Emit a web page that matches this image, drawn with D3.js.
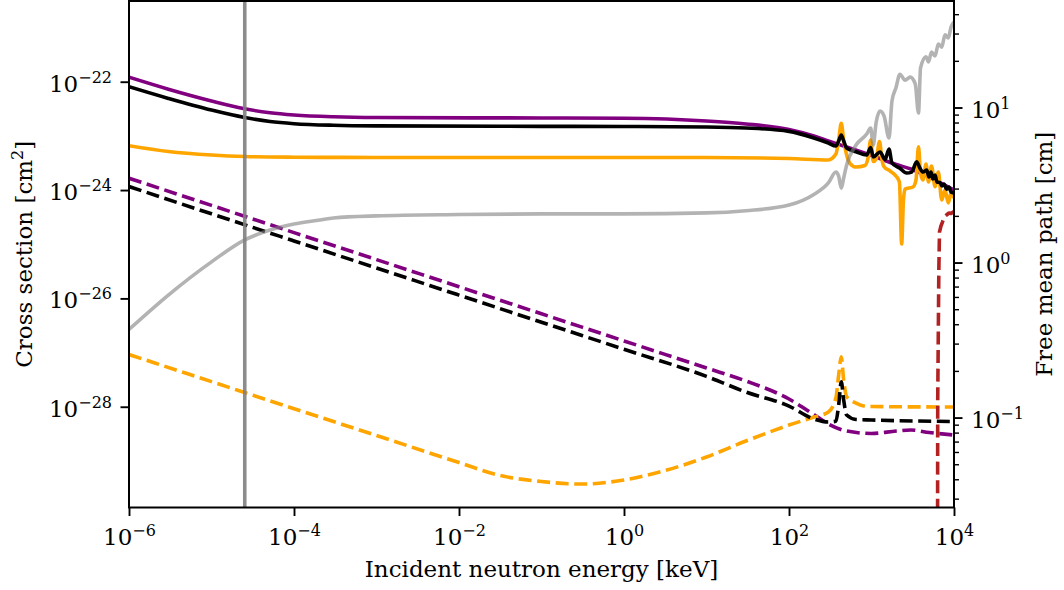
<!DOCTYPE html>
<html><head><meta charset="utf-8">
<script src="https://cdn.jsdelivr.net/npm/d3@7"></script>
<style>
body{margin:0;background:#fff}
svg text{font-family:"DejaVu Serif",serif;fill:#000}
</style></head><body>
<svg id="chart" width="1064" height="590"></svg>
<script>
// ---- data: [energy keV, cross section cm^2] ----
const purpleTotal = [[1e-6,1.21e-22],[3e-6,7.27e-23],[1e-5,4.41e-23],[2.53e-5,3.16e-23],[5.12e-5,2.67e-23],[1e-4,2.43e-23],[3e-4,2.25e-23],[1e-3,2.18e-23],[1e-1,2.14e-23],[1,2.11e-23],[10,1.88e-23],[30,1.66e-23],[100,1.31e-23],[200,9.93e-24],[300,8.04e-24],[500,6.24e-24],[1000,4.35e-24],[2000,2.96e-24],[3000,2.45e-24],[5000,1.74e-24],[1e4,1.0e-24]];
const orangeTotal = [[1e-6,6.59e-24],[3e-6,5.14e-24],[1e-5,4.43e-24],[2.53e-5,4.16e-24],[1e-4,4.04e-24],[3e-4,4.01e-24],[1e-3,3.99e-24],[10,3.99e-24],[100,3.82e-24],[300,3.59e-24],[370,4.62e-24],[400,8.39e-24],[430,1.71e-23],[460,8.39e-24],[500,4.43e-24],[548,3.12e-24],[650,2.66e-24],[834,2.84e-24],[908,3.91e-24],[977,8.39e-24],[1050,3.36e-24],[1140,3.74e-24],[1250,7.87e-24],[1340,3.59e-24],[1420,2.70e-24],[1680,2.25e-24],[1980,1.82e-24],[2180,1.41e-24],[2320,1.01e-25],[2440,6.55e-25],[2550,1.04e-24],[3180,1.14e-24],[3460,1.53e-24],[3710,6.31e-24],[3930,2.04e-24],[4210,1.53e-24],[4580,3.03e-24],[4910,1.41e-24],[5340,2.78e-24],[5890,1.15e-24],[6460,2.15e-24],[7100,6.55e-25],[7780,1.0e-24],[8530,5.77e-25],[9200,8.81e-25],[1e4,7.13e-25]];
const blackTotal = [[1e-6,8.09e-23],[3e-6,4.92e-23],[1e-5,2.99e-23],[2.53e-5,2.18e-23],[5.12e-5,1.84e-23],[1e-4,1.68e-23],[3e-4,1.57e-23],[1e-3,1.53e-23],[1e-1,1.50e-23],[1,1.49e-23],[10,1.46e-23],[30,1.40e-23],[100,1.21e-23],[200,9.14e-24],[300,7.38e-24],[370,6.5e-24],[400,8.04e-24],[430,1.04e-23],[460,8.04e-24],[500,5.97e-24],[650,5.10e-24],[875,4.44e-24],[977,6.10e-24],[1050,4.07e-24],[1270,5.04e-24],[1460,3.66e-24],[1630,5.72e-24],[1770,3.16e-24],[2210,2.52e-24],[2670,2.06e-24],[3070,2.15e-24],[3530,3.33e-24],[3870,2.52e-24],[4210,2.15e-24],[4670,2.34e-24],[4980,1.74e-24],[5260,2.15e-24],[5560,1.60e-24],[5890,1.90e-24],[6220,1.41e-24],[6760,1.38e-24],[7160,1.19e-24],[7570,1.29e-24],[8160,1.04e-24],[8700,1.14e-24],[9200,9.2e-25],[1e4,8.8e-25]];
const purpleCapture = [[1e-6,1.65e-24],[1e-5,5.21e-25],[1e-4,1.64e-25],[1e-3,5.2e-26],[1e-2,1.64e-26],[1e-1,5.19e-27],[1,1.64e-27],[10,5.19e-28],[30,2.99e-28],[100,1.39e-28],[200,7.18e-29],[300,4.80e-29],[500,3.56e-29],[1000,3.21e-29],[2000,3.56e-29],[3000,3.72e-29],[5000,3.34e-29],[1e4,3.01e-29]];
const orangeCapture = [[1e-6,9.2e-28],[1e-5,2.91e-28],[1e-4,9.2e-29],[1e-3,2.94e-29],[1e-2,9.33e-30],[3e-2,5.48e-30],[1e-1,4.16e-30],[3e-1,3.74e-30],[1,4.44e-30],[3,6.50e-30],[10,1.18e-29],[30,2.33e-29],[100,4.59e-29],[200,6.45e-29],[300,7.99e-29],[370,1.45e-28],[400,3.85e-28],[430,8.38e-28],[460,3.11e-28],[500,1.53e-28],[650,1.17e-28],[900,1.01e-28],[1e4,9.89e-29]];
const blackCapture = [[1e-6,1.16e-24],[1e-5,3.64e-25],[1e-4,1.15e-25],[1e-3,3.64e-26],[1e-2,1.15e-26],[1e-1,3.63e-27],[1,1.15e-27],[10,3.63e-28],[30,1.87e-28],[100,1.03e-28],[200,5.93e-29],[300,5.22e-29],[370,5.4e-29],[400,1.08e-28],[430,2.90e-28],[460,1.33e-28],[500,7.03e-29],[650,5.81e-29],[1000,5.69e-29],[1e4,5.33e-29]];
const redThreshold = [[6300,1e-32],[6350,1.33e-28],[6550,3.33e-26],[6670,1.68e-25],[6950,2.17e-25],[7250,2.57e-25],[7570,3.18e-25],[8110,3.46e-25],[8700,3.77e-25],[9200,3.69e-25],[1e4,4.02e-25]];
// [energy keV, free mean path cm]
const meanPath = [[1e-6,0.370],[3e-6,0.617],[1e-5,1.01],[2.53e-5,1.40],[5.12e-5,1.62],[1e-4,1.77],[2.06e-4,1.88],[3e-4,1.94],[1e-3,2.0],[1e-2,2.04],[1e-1,2.06],[1,2.06],[10,2.09],[30,2.16],[100,2.35],[200,2.75],[300,3.26],[370,3.84],[400,3.61],[430,3.02],[460,3.51],[500,4.26],[650,5.73],[875,6.74],[977,7.38],[1050,5.73],[1140,8.06],[1270,9.49],[1420,8.81],[1630,6.36],[1770,11.0],[1980,13.4],[2210,16.4],[2550,15.0],[2950,15.7],[3390,14.2],[3710,9.22],[3930,18.0],[4580,21.2],[4910,19.7],[5340,22.8],[5890,21.5],[6460,25.7],[7100,24.5],[7780,29.4],[8530,28.1],[9200,33.0],[1e4,35.6]];
const thermalEnergy = [2.53e-5];
// ticks
const xTicks = [1e-6,1e-4,1e-2,1,1e2,1e4];
const yLeftTicks = [1e-28,1e-26,1e-24,1e-22];
const yRightTicks = [0.1,1,10];
const yRightMinor = [0.03,0.04,0.05,0.06,0.07,0.08,0.09,0.2,0.3,0.4,0.5,0.6,0.7,0.8,0.9,2,3,4,5,6,7,8,9,20,30,40];

const svg = d3.select('#chart');
const L=129, R=954, T=1, B=507.5;
const FS=23, SFS=16, RAISE=9;
const x = d3.scaleLog().domain([1e-6,1e4]).range([L,R]);
const yL = d3.scaleLog().domain([Math.pow(10,-29.86),Math.pow(10,-20.51)]).range([B,T]);
const yR = d3.scaleLog().domain([Math.pow(10,-1.58),Math.pow(10,1.687)]).range([B,T]);

svg.append('defs').append('clipPath').attr('id','clip').append('rect')
  .attr('x',L).attr('y',T).attr('width',R-L).attr('height',B-T);
const plot = svg.append('g').attr('clip-path','url(#clip)');

const smoothL = d3.line().x(d=>x(d[0])).y(d=>yL(d[1])).curve(d3.curveMonotoneX);
const straightL = d3.line().x(d=>x(d[0])).y(d=>yL(d[1]));
const smoothR = d3.line().x(d=>x(d[0])).y(d=>yR(d[1])).curve(d3.curveMonotoneX);
const LW = 3.6, DASH = '13,5.6';
function draw(data, gen, color, dashed, extra){
  const p = plot.append('path').datum(data).attr('d',gen).attr('fill','none')
    .attr('stroke',color).attr('stroke-width',LW).attr('stroke-linejoin','round');
  if(dashed) p.attr('stroke-dasharray',DASH);
  if(extra) extra(p);
}
draw(purpleTotal, smoothL, '#800080', false);
draw(purpleCapture, smoothL, '#800080', true);
draw(orangeTotal, smoothL, '#ffa500', false);
draw(orangeCapture, smoothL, '#ffa500', true);
draw(blackTotal, smoothL, '#000000', false);
draw(blackCapture, smoothL, '#000000', true);
draw(redThreshold, straightL, '#b22222', true);
plot.selectAll('line.thermal').data(thermalEnergy).enter().append('line')
  .attr('x1',d=>x(d)).attr('x2',d=>x(d)).attr('y1',T).attr('y2',B)
  .attr('stroke','#808080').attr('stroke-opacity',0.9).attr('stroke-width',LW);
draw(meanPath, smoothR, '#808080', false, p=>p.attr('stroke-opacity',0.6));

function supLabel(sel){
  sel.each(function(d){
    const e = Math.round(Math.log10(d));
    const s = e<0 ? '\u2212'+(-e) : ''+e;
    const t = d3.select(this); t.text(null);
    t.append('tspan').text('10');
    t.append('tspan').attr('dy',-RAISE).attr('font-size',SFS).text(s);
  });
}
function styleAxis(g){
  g.select('.domain').remove();
  g.selectAll('.tick line').attr('stroke','#000').attr('stroke-width',1.9);
  g.selectAll('.tick text').attr('font-family','DejaVu Serif').attr('font-size',FS).attr('fill','#000');
}
// bottom axis
const gx = svg.append('g').attr('transform',`translate(0,${B})`)
  .call(d3.axisBottom(x).tickValues(xTicks).tickSize(8.5).tickPadding(8));
styleAxis(gx);
gx.selectAll('.tick text').attr('dy',null).attr('y',37.5);
supLabel(gx.selectAll('.tick text'));
// left axis
const gy = svg.append('g').attr('transform',`translate(${L},0)`)
  .call(d3.axisLeft(yL).tickValues(yLeftTicks).tickSize(8.5).tickPadding(8));
styleAxis(gy);
gy.selectAll('.tick text').attr('dy',null).attr('y',9.5).attr('x',-17);
supLabel(gy.selectAll('.tick text'));
// right axis
const gr = svg.append('g').attr('transform',`translate(${R},0)`)
  .call(d3.axisRight(yR).tickValues(yRightTicks).tickSize(8.5).tickPadding(8));
styleAxis(gr);
gr.selectAll('.tick text').attr('dy',null).attr('y',9.5).attr('x',17);
supLabel(gr.selectAll('.tick text'));
const grm = svg.append('g').attr('transform',`translate(${R},0)`)
  .call(d3.axisRight(yR).tickValues(yRightMinor).tickSize(5).tickFormat(''));
styleAxis(grm);
grm.selectAll('.tick line').attr('stroke-width',1.4);
// frame
svg.append('rect').attr('x',L).attr('y',T).attr('width',R-L).attr('height',B-T)
  .attr('fill','none').attr('stroke','#000').attr('stroke-width',2);
// axis titles
svg.append('text').attr('x',(L+R)/2).attr('y',577).attr('text-anchor','middle').attr('font-size',FS)
  .text('Incident neutron energy [keV]');
const yl = svg.append('text').attr('transform',`translate(32,${(T+B)/2}) rotate(-90)`)
  .attr('text-anchor','middle').attr('font-size',FS);
yl.append('tspan').text('Cross section [cm');
yl.append('tspan').attr('dy',-RAISE).attr('font-size',SFS).text('2');
yl.append('tspan').attr('dy',RAISE).text(']');
svg.append('text').attr('transform',`translate(1052,${(T+B)/2}) rotate(-90)`)
  .attr('text-anchor','middle').attr('font-size',FS).text('Free mean path [cm]');
</script>
</body></html>
